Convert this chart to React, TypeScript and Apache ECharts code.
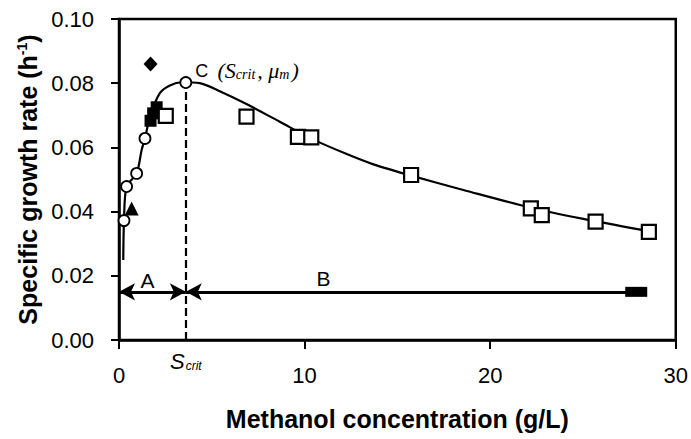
import React, { useEffect, useRef } from "react";
import * as echarts from "echarts";

// ---- data ----
const xTickValues = [0, 10, 20, 30];
const yTickValues = [0, 0.02, 0.04, 0.06, 0.08, 0.1];

// fitted model curve
const curveX = [0.23, 0.27, 0.41, 0.95, 1.22, 1.4, 1.67, 2.2, 2.74, 3.4, 4.35, 5.43, 6.87, 8.66, 10.45, 12.24, 13.67, 15.74, 18.7, 22.19, 24.95, 28.17];
const curveY = [0.0249, 0.0372, 0.0478, 0.0519, 0.0592, 0.0628, 0.0696, 0.0769, 0.0793, 0.0803, 0.08, 0.0775, 0.0735, 0.068, 0.0625, 0.058, 0.0548, 0.0512, 0.0465, 0.0412, 0.0378, 0.0343];

const openCircleX = [0.27, 0.41, 0.95, 1.4];
const openCircleY = [0.0372, 0.0478, 0.0519, 0.0628];

const critX = 3.6;
const critY = 0.0802;

const openSquareX = [2.52, 6.87, 9.64, 10.36, 15.74, 22.19, 22.78, 25.68, 28.55];
const openSquareY = [0.0698, 0.0696, 0.0633, 0.0631, 0.0514, 0.041, 0.0389, 0.0369, 0.0337];

const filledSquareX = [1.7, 1.84, 2.03];
const filledSquareY = [0.0683, 0.0706, 0.0725];

const triangleX = [0.68];
const triangleY = [0.041];

const diamondX = [1.7];
const diamondY = [0.086];

const arrowY = 0.015;
const arrowBEnd = 27.87;

const regionNames = ["A", "B"];
const regionX = [1.53, 11.02];
const regionY = [0.0184, 0.0193];

const FONT = "'Liberation Sans', Arial, Helvetica, sans-serif";
const SERIF = "'Liberation Serif', 'Times New Roman', serif";

const zip = (xs: number[], ys: number[]) => xs.map((x, i) => [x, ys[i]]);

export default function App() {
  const ref = useRef<HTMLDivElement>(null);

  useEffect(() => {
    if (!ref.current) return;
    const chart = echarts.init(ref.current, undefined, { renderer: "svg" });

    const option: any = {
      animation: false,
      backgroundColor: "#fff",
      grid: {
        left: 119,
        right: 14,
        top: 19,
        bottom: 99,
        show: true,
        borderColor: "#000",
        borderWidth: 2.5,
        backgroundColor: "transparent",
      },
      xAxis: {
        type: "value",
        min: 0,
        max: 30,
        interval: 10,
        name: "Methanol concentration (g/L)",
        nameLocation: "middle",
        nameGap: 66,
        nameTextStyle: { fontFamily: FONT, fontSize: 25, fontWeight: "bold", color: "#000" },
        axisLine: { show: true, onZero: false, lineStyle: { color: "#000", width: 2.5 } },
        axisTick: { show: true, inside: false, length: 9, lineStyle: { color: "#000", width: 2 } },
        axisLabel: {
          fontFamily: FONT,
          fontSize: 22,
          color: "#000",
          margin: 24,
          customValues: xTickValues,
        },
        splitLine: { show: false },
      },
      yAxis: {
        type: "value",
        min: 0,
        max: 0.1,
        interval: 0.02,
        name: "{t|Specific growth rate (h}{sup|-1}{t|)}",
        nameLocation: "middle",
        nameRotate: 90,
        nameGap: 79,
        nameTextStyle: {
          rich: {
            t: { fontFamily: FONT, fontSize: 25, fontWeight: "bold", color: "#000" },
            sup: { fontFamily: FONT, fontSize: 14, fontWeight: "bold", color: "#000", verticalAlign: "top", padding: [0, 0, 10, 0] },
          },
        },
        axisLine: { show: true, onZero: false, lineStyle: { color: "#000", width: 2.5 } },
        axisTick: { show: true, inside: false, length: 8, lineStyle: { color: "#000", width: 2 } },
        axisLabel: {
          fontFamily: FONT,
          fontSize: 22,
          color: "#000",
          margin: 25,
          formatter: (v: number) => v.toFixed(2),
          customValues: yTickValues,
        },
        splitLine: { show: false },
      },
      series: [
        {
          name: "model",
          type: "line",
          data: zip(curveX, curveY),
          showSymbol: false,
          symbol: "none",
          smooth: 0.3,
          lineStyle: { color: "#000", width: 2.2 },
          z: 2,
          markLine: {
            silent: true,
            symbol: ["none", "none"],
            animation: false,
            data: [
              [
                {
                  coord: [critX, 0],
                  symbol: "none",
                  lineStyle: { type: [8, 4], width: 2.2, color: "#000" },
                  label: {
                    show: true,
                    position: "start",
                    distance: 10,
                    formatter: "{s|S}{sub|crit}",
                    rich: {
                      s: { fontFamily: FONT, fontStyle: "italic", fontSize: 22, color: "#000" },
                      sub: { fontFamily: FONT, fontStyle: "italic", fontSize: 12, color: "#000", verticalAlign: "bottom", padding: [8, 0, 0, 1] },
                    },
                  },
                },
                { coord: [critX, critY], symbol: "none" },
              ],
              [
                {
                  coord: [0, arrowY],
                  symbol: "arrow",
                  symbolSize: [13, 16],
                  lineStyle: { type: "solid", width: 3, color: "#000" },
                  label: { show: false },
                },
                { coord: [critX, arrowY], symbol: "arrow", symbolSize: [13, 16] },
              ],
              [
                {
                  coord: [critX, arrowY],
                  symbol: "arrow",
                  symbolSize: [13, 16],
                  lineStyle: { type: "solid", width: 3, color: "#000" },
                  label: { show: false },
                },
                { coord: [arrowBEnd, arrowY], symbol: "rect", symbolSize: [10, 22] },
              ],
            ],
          },
        },
        {
          name: "open circles",
          type: "scatter",
          data: [
            ...zip(openCircleX, openCircleY),
            {
              value: [critX, critY],
              label: {
                show: true,
                position: "right",
                offset: [-2, -12],
                formatter: "{c|C} {p|(S}{sub|crit}{p|, μ}{sub|m}{p|)}",
                rich: {
                  c: { fontFamily: FONT, fontSize: 18, color: "#000", padding: [0, 6, 0, 0] },
                  p: { fontFamily: SERIF, fontStyle: "italic", fontSize: 22, color: "#000" },
                  sub: { fontFamily: SERIF, fontStyle: "italic", fontSize: 14, color: "#000", verticalAlign: "bottom", padding: [8, 2, 0, 0] },
                },
              },
            },
          ],
          symbol: "circle",
          symbolSize: 11,
          itemStyle: { color: "#fff", borderColor: "#000", borderWidth: 1.8, opacity: 1 },
          z: 5,
        },
        {
          name: "open squares",
          type: "scatter",
          data: zip(openSquareX, openSquareY),
          symbol: "rect",
          symbolSize: 14,
          itemStyle: { color: "#fff", borderColor: "#000", borderWidth: 2.2, opacity: 1 },
          z: 5,
        },
        {
          name: "filled squares",
          type: "scatter",
          data: zip(filledSquareX, filledSquareY),
          symbol: "rect",
          symbolSize: 12,
          itemStyle: { color: "#000", opacity: 1 },
          z: 4,
        },
        {
          name: "triangle",
          type: "scatter",
          data: zip(triangleX, triangleY),
          symbol: "triangle",
          symbolSize: 14,
          itemStyle: { color: "#000", opacity: 1 },
          z: 4,
        },
        {
          name: "diamond",
          type: "scatter",
          data: zip(diamondX, diamondY),
          symbol: "diamond",
          symbolSize: [14, 15],
          itemStyle: { color: "#000", opacity: 1 },
          z: 4,
        },
        {
          name: "region labels",
          type: "scatter",
          data: regionNames.map((n, i) => ({ name: n, value: [regionX[i], regionY[i]] })),
          symbolSize: 0,
          itemStyle: { opacity: 1 },
          label: {
            show: true,
            position: "inside",
            formatter: (p: any) => p.name,
            fontFamily: FONT,
            fontSize: 21,
            color: "#000",
            opacity: 1,
          },
          z: 6,
        },
      ],
    };

    chart.setOption(option);
    return () => chart.dispose();
  }, []);

  return (
    <div
      ref={ref}
      style={{ position: "fixed", left: 0, top: 0, width: 691, height: 439, background: "#fff" }}
    />
  );
}
